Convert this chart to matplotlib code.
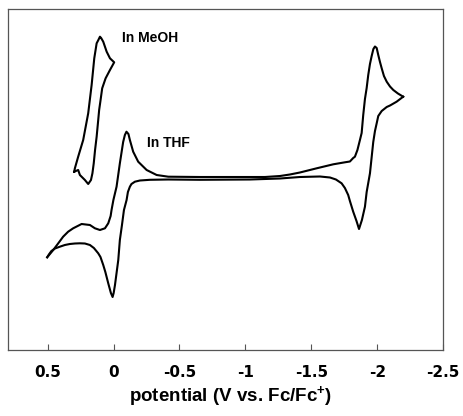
import matplotlib
matplotlib.use("Agg")
import matplotlib.pyplot as plt

plt.rcParams["font.family"] = ["Liberation Sans", "DejaVu Sans"]
plt.rcParams["font.weight"] = "bold"
plt.rcParams["mathtext.fontset"] = "custom"
plt.rcParams["mathtext.rm"] = "Liberation Sans:bold"
plt.rcParams["mathtext.bf"] = "Liberation Sans:bold"

# CV in MeOH: potential (V vs Fc/Fc+) and current (a.u.)
meoh_E = [0.298, 0.268, 0.255, 0.217, 0.192, 0.171, 0.160, 0.150, 0.140, 0.128,
          0.116, 0.109, 0.100, 0.086, 0.060, 0.027, -0.005, 0.027, 0.052, 0.078,
          0.094, 0.103, 0.115, 0.128, 0.146, 0.166, 0.192, 0.230, 0.268, 0.293, 0.298]
meoh_I = [17.83, 18.0, 17.5, 17.0, 16.6, 17.0, 17.67, 18.67, 20.0, 21.33,
          23.0, 24.0, 24.83, 26.17, 27.17, 28.0, 28.77, 29.17, 29.83, 30.83,
          31.2, 31.33, 31.0, 30.67, 29.17, 26.5, 23.67, 21.0, 19.33, 18.17, 17.83]

# CV in THF, forward sweep (0.5 V -> -2.2 V)
thf_fwd_E = [0.503, 0.457, 0.419, 0.382, 0.344, 0.306, 0.242, 0.179, 0.141, 0.103,
             0.065, 0.040, 0.022, 0.015, 0.001, -0.023, -0.048, -0.073, -0.086, -0.098,
             -0.113, -0.124, -0.149, -0.187, -0.251, -0.327, -0.415, -0.655, -0.958, -1.148,
             -1.262, -1.337, -1.413, -1.540, -1.666, -1.754, -1.792, -1.817, -1.830, -1.849,
             -1.868, -1.881, -1.893, -1.906, -1.919, -1.931, -1.944, -1.957, -1.970, -1.982,
             -1.995, -2.007, -2.020, -2.033, -2.050, -2.071, -2.096, -2.121, -2.156, -2.196]
thf_fwd_I = [9.27, 10.0, 10.67, 11.33, 11.83, 12.17, 12.6, 12.5, 12.17, 12.0,
             12.17, 12.67, 13.4, 14.0, 15.0, 16.33, 18.67, 20.8, 21.5, 21.83,
             21.6, 21.0, 19.83, 18.83, 18.0, 17.5, 17.33, 17.3, 17.3, 17.3,
             17.4, 17.55, 17.75, 18.17, 18.57, 18.77, 18.85, 19.2, 19.33, 20.0,
             21.0, 21.7, 23.5, 25.1, 26.2, 27.5, 28.6, 29.4, 30.1, 30.35,
             30.2, 29.5, 28.8, 28.17, 27.4, 26.83, 26.35, 26.0, 25.65, 25.33]

# CV in THF, reverse sweep (-2.2 V -> 0.5 V)
thf_rev_E = [-2.196, -2.146, -2.096, -2.071, -2.033, -2.007, -1.995, -1.982, -1.969, -1.957,
             -1.944, -1.919, -1.906, -1.883, -1.861, -1.842, -1.817, -1.792, -1.779, -1.754,
             -1.729, -1.686, -1.641, -1.565, -1.413, -1.262, -1.034, -0.655, -0.415, -0.276,
             -0.200, -0.162, -0.136, -0.124, -0.109, -0.099, -0.079, -0.064, -0.048, -0.036,
             -0.023, -0.011, -0.001, 0.007, 0.020, 0.040, 0.062, 0.078, 0.099, 0.116,
             0.149, 0.179, 0.217, 0.255, 0.293, 0.331, 0.369, 0.407, 0.444, 0.471,
             0.490, 0.503]
thf_rev_I = [25.33, 24.83, 24.45, 24.3, 23.9, 23.4, 22.67, 21.9, 20.8, 19.3,
             17.67, 15.8, 14.33, 13.0, 12.1, 12.9, 13.83, 14.9, 15.5, 16.2,
             16.67, 17.05, 17.25, 17.35, 17.3, 17.15, 17.05, 17.02, 17.05, 17.02,
             16.95, 16.83, 16.6, 16.33, 15.8, 15.0, 14.0, 12.5, 11.0, 9.0,
             7.7, 6.5, 5.7, 5.3, 5.7, 6.67, 7.8, 8.5, 9.3, 9.67,
             10.2, 10.5, 10.65, 10.67, 10.65, 10.6, 10.5, 10.33, 10.15, 9.9,
             9.55, 9.27]

ticks = [0.5, 0, -0.5, -1, -1.5, -2, -2.5]
tick_labels = ["0.5", "0", "-0.5", "-1", "-1.5", "-2", "-2.5"]

fig = plt.figure(figsize=(4.63, 4.16), dpi=100)
ax = fig.add_axes([8 / 463, 1 - 350 / 416, 435.3 / 463, 340.7 / 416])

lw = 1.5
ax.plot(meoh_E, meoh_I, color="black", lw=lw, solid_joinstyle="round")
ax.plot(thf_fwd_E, thf_fwd_I, color="black", lw=lw, solid_joinstyle="round")
ax.plot(thf_rev_E, thf_rev_I, color="black", lw=lw, solid_joinstyle="round")

ax.text(-0.061, 31.25, "In MeOH", fontsize=10, fontweight="bold",
        ha="left", va="center")
ax.text(-0.251, 20.7, "In THF", fontsize=10, fontweight="bold",
        ha="left", va="center")

ax.set_xlim(0.8, -2.5)
ax.set_ylim(0, 34.07)
ax.set_xticks(ticks)
ax.set_xticklabels(tick_labels, fontsize=11, fontweight="bold",
                   family="DejaVu Sans")
ax.set_yticks([])
ax.tick_params(axis="x", direction="in", length=4, width=0.8,
               color="#555555", pad=11)
for s in ax.spines.values():
    s.set_color("#555555")
    s.set_linewidth(0.9)
ax.set_xlabel(r"potential (V vs. Fc/Fc$^{+}$)", fontsize=13.5,
              fontweight="bold")
ax.xaxis.set_label_coords(0.512, -0.10)

fig.savefig("out.png", dpi=100)
